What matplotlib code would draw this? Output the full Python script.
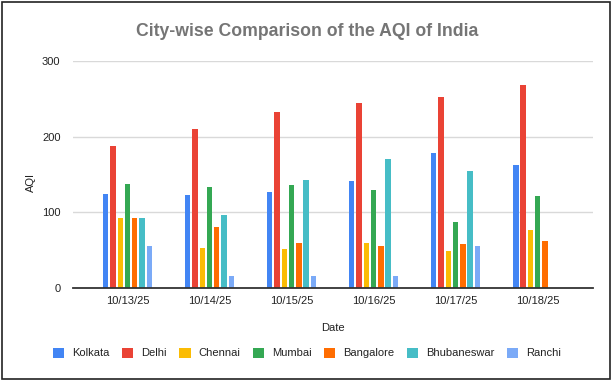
import numpy as np
import matplotlib
matplotlib.use("Agg")
import matplotlib.pyplot as plt
from matplotlib.patches import Rectangle

plt.rcParams['font.family'] = ['Liberation Sans', 'DejaVu Sans']

# data
dates = ['10/13/25', '10/14/25', '10/15/25', '10/16/25', '10/17/25', '10/18/25']
cities = ['Kolkata', 'Delhi', 'Chennai', 'Mumbai', 'Bangalore', 'Bhubaneswar', 'Ranchi']
kolkata = [124, 123, 127, 142, 178, 162]
delhi = [188, 210, 232, 244, 253, 268]
chennai = [92, 53, 51, 59, 49, 77]
mumbai = [138, 134, 136, 129, 87, 122]
bangalore = [92, 80, 59, 56, 58, 62]
bhubaneswar = [93, 97, 143, 170, 155, np.nan]
ranchi = [56, 16, 16, 16, 56, np.nan]
series = [kolkata, delhi, chennai, mumbai, bangalore, bhubaneswar, ranchi]
colors = ['#4285F4', '#EA4335', '#FBBC04', '#34A853', '#FF6D01', '#46BDC6', '#7BAAF7']

fig = plt.figure(figsize=(6.14, 3.81), dpi=100)
W, H = 614, 381
ax = fig.add_axes([73 / W, 1 - 288 / H, (593 - 73) / W, (288 - 61) / H])

x = np.arange(len(dates))
slot = 0.0886
bw = 0.065
for i, (name, vals, c) in enumerate(zip(cities, series, colors)):
    ax.bar(x + (i - 3) * slot, vals, bw, color=c, label=name, zorder=3)

ax.set_xlim(-0.665, 5.675)
ax.set_ylim(0, 300)
ax.set_yticks([0, 100, 200, 300])
ax.set_xticks(x)
ax.set_xticklabels(dates)
ax.grid(axis='y', color='#d9d9d9', linewidth=1, zorder=0)
for s in ['top', 'right', 'left']:
    ax.spines[s].set_visible(False)
ax.spines['bottom'].set_color('#333333')
ax.spines['bottom'].set_linewidth(1.3)
ax.spines['bottom'].set_zorder(4)
ax.tick_params(axis='both', length=0, labelsize=8, colors='#222222')
ax.tick_params(axis='y', pad=9)
ax.tick_params(axis='x', pad=6)

fig.text(307 / W, 1 - 32 / H, 'City-wise Comparison of the AQI of India',
         ha='center', va='center', fontsize=12.7, fontweight='bold', color='#757575')
fig.text(31 / W, 1 - 183 / H, 'AQI', rotation=90, ha='center', va='center',
         fontsize=8, color='#222222')
fig.text(333 / W, 1 - 328 / H, 'Date', ha='center', va='center',
         fontsize=8, color='#222222')

fig.legend(loc='center', bbox_to_anchor=(307 / W, 1 - 353 / H), ncol=7,
           frameon=False, fontsize=8, handlelength=1.0, handleheight=1.0,
           handletextpad=0.7, columnspacing=1.15, labelcolor='#222222')

fig.patches.append(Rectangle((2 / W, 2 / H), 608 / W, 377 / H, transform=fig.transFigure,
                             fill=False, edgecolor='#222222', linewidth=1.2))

fig.savefig('out.png', dpi=100)
